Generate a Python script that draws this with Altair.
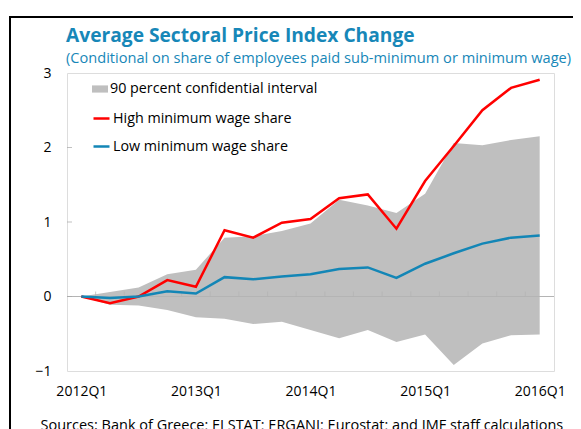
import json
import altair as alt
import pandas as pd

quarters = ["2012Q1", "2012Q2", "2012Q3", "2012Q4",
            "2013Q1", "2013Q2", "2013Q3", "2013Q4",
            "2014Q1", "2014Q2", "2014Q3", "2014Q4",
            "2015Q1", "2015Q2", "2015Q3", "2015Q4",
            "2016Q1"]
high_share = [0, -0.09, 0.0, 0.22, 0.13, 0.89, 0.79, 0.99, 1.04, 1.32, 1.37, 0.91, 1.55, 2.02, 2.50, 2.80, 2.91]
low_share = [0, -0.02, 0.0, 0.07, 0.04, 0.26, 0.23, 0.27, 0.30, 0.37, 0.39, 0.25, 0.44, 0.58, 0.71, 0.79, 0.82]
ci_upper = [0, 0.06, 0.12, 0.30, 0.36, 0.79, 0.81, 0.88, 0.98, 1.30, 1.22, 1.12, 1.38, 2.06, 2.03, 2.10, 2.15]
ci_lower = [0, -0.11, -0.12, -0.18, -0.28, -0.30, -0.37, -0.34, -0.45, -0.56, -0.45, -0.61, -0.51, -0.92, -0.63, -0.52, -0.51]
x_tick_labels = ["2012Q1", "2013Q1", "2014Q1", "2015Q1", "2016Q1"]
y_ticks = [-1, 0, 1, 2, 3]

BAND = "90 percent confidential interval"
HIGH = "High minimum wage share"
LOW = "Low minimum wage share"
TITLE = "Average Sectoral Price Index Change"
SUBTITLE = "(Conditional on share of employees paid sub-minimum or minimum wage)"
SOURCE = "Sources: Bank of Greece; ELSTAT; ERGANI; Eurostat; and IMF staff calculations"

FONT = "Open Sans"
BLUE_T = "#1787b8"

df = pd.DataFrame({
    "t": list(range(len(quarters))),
    "quarter": quarters,
    HIGH: high_share,
    LOW: low_share,
    "upper": ci_upper,
    "lower": ci_lower,
    "band": [BAND] * len(quarters),
})

tick_df = pd.DataFrame({"t": [i + 0.5 for i in range(len(quarters) - 1)], "y": [0] * (len(quarters) - 1)})
ytick_df = pd.DataFrame({"t": [-0.5] * 3, "y": [0, 1, 2]})

label_index = {str(quarters.index(q)): q for q in x_tick_labels}
label_expr = json.dumps(label_index) + "[toString(datum.value)]"

xscale = alt.Scale(domain=[-0.5, len(quarters) - 0.5], nice=False, zero=False)
yscale = alt.Scale(domain=[-1, 3], nice=False)

base = alt.Chart(df)

area = base.mark_area(opacity=1, interpolate="linear").encode(
    x=alt.X("t:Q", scale=xscale,
            axis=alt.Axis(values=[quarters.index(q) for q in x_tick_labels], labelExpr=label_expr,
                          grid=False, domain=False, ticks=False, labelPadding=13,
                          labelFontSize=14, labelFont=FONT, labelColor="#000",
                          title=SOURCE, titleFont=FONT, titleFontSize=14.5, titleFontWeight="normal",
                          titleColor="#000", titleAnchor="start", titleAlign="left", titleX=-27,
                          titlePadding=20, titleLimit=1000)),
    y=alt.Y("lower:Q", scale=yscale,
            axis=alt.Axis(values=y_ticks, format="d", grid=False, domain=False, ticks=False, labelPadding=16,
                          labelFontSize=14, labelFont=FONT, labelColor="#000", title=None)),
    y2="upper:Q",
    fill=alt.Fill("band:N", scale=alt.Scale(domain=[BAND], range=["#bfbfbf"]),
                  legend=alt.Legend(title=None, orient="none", legendX=25, legendY=8, padding=0,
                                    symbolType="M-1,-0.45H1V0.45H-1Z", symbolSize=256,
                                    symbolStrokeWidth=0, labelFontSize=14.3, labelFont=FONT,
                                    labelColor="#000", labelOffset=2, labelLimit=1000)),
)

zero = alt.Chart(pd.DataFrame({"y": [0]})).mark_rule(color="#b4b4b4", strokeWidth=1).encode(
    y=alt.Y("y:Q", scale=yscale))

ticks = alt.Chart(tick_df).mark_tick(orient="vertical", size=5, thickness=1, color="#b4b4b4", yOffset=-2.5).encode(
    x=alt.X("t:Q", scale=xscale), y=alt.Y("y:Q", scale=yscale))

yticks = alt.Chart(ytick_df).mark_tick(orient="horizontal", size=5, thickness=1, color="#a6a6a6", xOffset=2.5).encode(
    x=alt.X("t:Q", scale=xscale), y=alt.Y("y:Q", scale=yscale))

lines = base.transform_fold([HIGH, LOW], as_=["series", "value"]).mark_line(strokeWidth=2.5).encode(
    x=alt.X("t:Q", scale=xscale),
    y=alt.Y("value:Q", scale=yscale),
    stroke=alt.Stroke("series:N", scale=alt.Scale(domain=[HIGH, LOW], range=["#ff0000", "#1386b6"]),
                      legend=alt.Legend(title=None, orient="none", legendX=25, legendY=36, padding=0,
                                        symbolType="stroke", symbolSize=256, symbolStrokeWidth=2.5,
                                        rowPadding=11, labelFontSize=14.3, labelFont=FONT,
                                        labelColor="#000", labelOffset=2, labelLimit=1000)),
)

frame = alt.Chart(pd.DataFrame({"a": [0]})).mark_rect(filled=False, stroke="#000", strokeWidth=2).encode(
    x=alt.value(-57), x2=alt.value(800), y=alt.value(-56), y2=alt.value(800))

chart = alt.layer(area, zero, ticks, yticks, lines, frame).properties(
    width=487, height=298,
    title=alt.Title(TITLE, subtitle=SUBTITLE, anchor="start", frame="group", font=FONT, fontSize=19.2,
                    fontWeight="bold", color=BLUE_T, subtitleFont=FONT, subtitleFontSize=14.6,
                    subtitleColor=BLUE_T, subtitlePadding=5, offset=8, dx=-1, dy=58),
    autosize=alt.AutoSizeParams(type="none"),
    padding={"left": 59, "top": 65, "right": 19, "bottom": 58},
).resolve_scale(fill="independent", stroke="independent").configure_view(
    stroke="#a6a6a6", strokeWidth=1.2
).configure(background="white")

chart.save("out.html", embed_options={"renderer": "svg", "actions": False})
